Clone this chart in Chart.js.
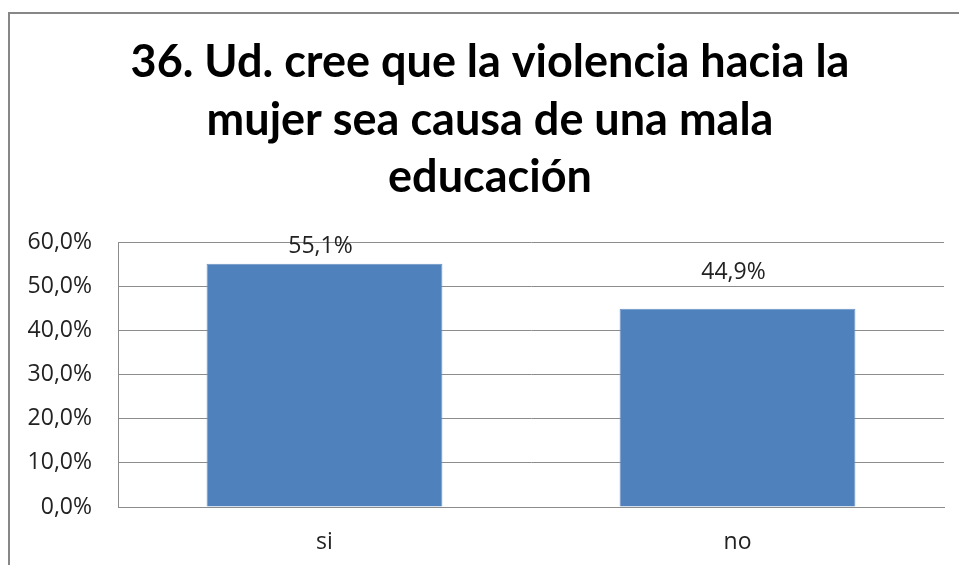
<!DOCTYPE html>
<html>
<head>
<meta charset="utf-8">
<script src="https://cdn.jsdelivr.net/npm/chart.js@4"></script>
<style>
html,body{margin:0;padding:0;background:#fff;}
#wrap{position:relative;width:959px;height:565px;}
</style>
</head>
<body>
<div id="wrap"><canvas id="c" width="959" height="565"></canvas></div>
<script>
const categories = ["si", "no"];
const values = [55.1, 44.9];
const valueLabels = ["55,1%", "44,9%"];
const titleLines = ["36. Ud. cree que la violencia hacia la", "mujer sea causa de una mala", "educación"];
const yTicks = [0, 10, 20, 30, 40, 50, 60];

const labelOffsets = [6, 25];
const titleBaselines = [77, 135, 192];

const framePlugin = {
  id: 'frame',
  beforeDraw(chart) {
    const ctx = chart.ctx;
    ctx.save();
    ctx.fillStyle = '#fff';
    ctx.fillRect(0, 0, chart.width, chart.height);
    ctx.fillStyle = '#878787';
    ctx.fillRect(8, 12, 2, 600);
    ctx.fillRect(8, 12, 1000, 2);
    ctx.fillStyle = '#000';
    ctx.font = 'bold 45px Lato';
    ctx.textAlign = 'center';
    ctx.textBaseline = 'alphabetic';
    titleLines.forEach((t, i) => ctx.fillText(t, 490, titleBaselines[i]));
    ctx.restore();
  }
};

const valueLabelPlugin = {
  id: 'valueLabels',
  afterDatasetsDraw(chart) {
    const ctx = chart.ctx;
    const meta = chart.getDatasetMeta(0);
    ctx.save();
    ctx.font = '23px "Open Sans"';
    ctx.fillStyle = '#222';
    ctx.textAlign = 'center';
    ctx.textBaseline = 'alphabetic';
    meta.data.forEach((bar, i) => {
      ctx.fillText(valueLabels[i], bar.x - 4, bar.y - labelOffsets[i] - 5);
    });
    ctx.restore();
  }
};

new Chart(document.getElementById('c'), {
  type: 'bar',
  data: {
    labels: categories,
    datasets: [{
      data: values,
      backgroundColor: '#4F81BD',
      borderColor: '#6A94C8',
      borderWidth: 1,
      barPercentage: 0.571,
      categoryPercentage: 1.0
    }]
  },
  options: {
    responsive: false,
    animation: false,
    layout: { padding: { top: 242, right: 15, bottom: 0, left: 0 } },
    plugins: {
      legend: { display: false },
      tooltip: { enabled: false },
      title: { display: false }
    },
    scales: {
      x: {
        grid: { display: false, drawTicks: false },
        border: { display: true, color: '#8c8c8c', width: 1 },
        ticks: { color: '#222', font: { family: 'Open Sans', size: 23 }, padding: 22 },
        afterFit(scale) { scale.height = 58; }
      },
      y: {
        min: 0, max: 60,
        afterBuildTicks(scale) { scale.ticks = yTicks.map(v => ({ value: v })); },
        grid: { color: '#8c8c8c', lineWidth: 1, drawTicks: false },
        border: { display: true, color: '#8c8c8c', width: 1 },
        ticks: {
          color: '#222',
          font: { family: 'Open Sans', size: 23 },
          padding: 26,
          callback: v => v.toFixed(1).replace('.', ',') + '%'
        },
        afterFit(scale) { scale.width = 118; }
      }
    }
  },
  plugins: [framePlugin, valueLabelPlugin]
});
</script>
</body>
</html>
